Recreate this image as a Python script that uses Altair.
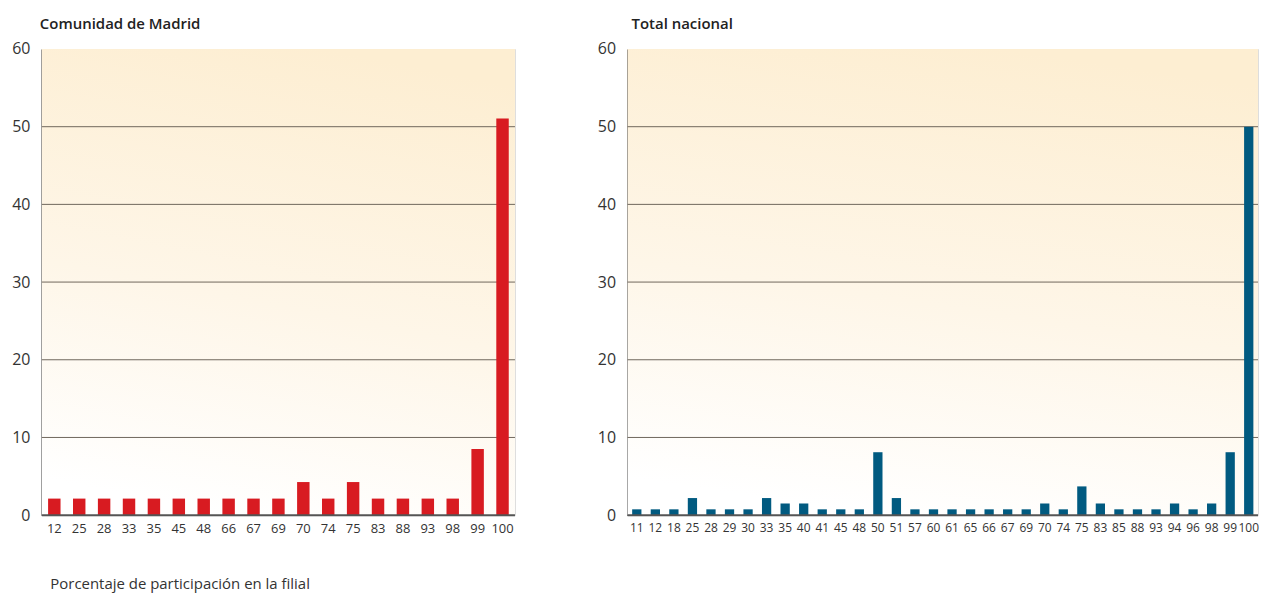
import altair as alt
import pandas as pd

# Comunidad de Madrid
madrid_cats = ["12", "25", "28", "33", "35", "45", "48", "66", "67", "69",
               "70", "74", "75", "83", "88", "93", "98", "99", "100"]
madrid_vals = [2.13, 2.13, 2.13, 2.13, 2.13, 2.13, 2.13, 2.13, 2.13, 2.13,
               4.26, 2.13, 4.26, 2.13, 2.13, 2.13, 2.13, 8.51, 51.06]

# Total nacional
nac_cats = ["11", "12", "18", "25", "28", "29", "30", "33", "35", "40",
            "41", "45", "48", "50", "51", "57", "60", "61", "65", "66",
            "67", "69", "70", "74", "75", "83", "85", "88", "93", "94",
            "96", "98", "99", "100"]
nac_vals = [0.75, 0.75, 0.75, 2.2, 0.75, 0.75, 0.75, 2.2, 1.5, 1.5,
            0.75, 0.75, 0.75, 8.1, 2.2, 0.75, 0.75, 0.75, 0.75, 0.75,
            0.75, 0.75, 1.5, 0.75, 3.7, 1.5, 0.75, 0.75, 0.75, 1.5,
            0.75, 1.5, 8.1, 50.0]

titles = ["Comunidad de Madrid", "Total nacional"]
x_title = "Porcentaje de participación en la filial"
y_ticks = [0, 10, 20, 30, 40, 50, 60]
grid_vals = [10, 20, 30, 40, 50]

FONT = "Open Sans"
H = 468

gradient = alt.LinearGradient(
    gradient="linear",
    stops=[alt.GradientStop(color="#fdeed2", offset=0),
           alt.GradientStop(color="#fef6e8", offset=0.55),
           alt.GradientStop(color="#ffffff", offset=1)],
    x1=0.6, y1=0, x2=0.4, y2=1,
)


def panel(cats, vals, title, width, color, label_size, show_xtitle, title_dx):
    df = pd.DataFrame({"cat": cats, "val": vals})
    bg = alt.Chart(pd.DataFrame({"a": [0]})).mark_rect(color=gradient).encode(
        x=alt.value(0), x2=alt.value(width), y=alt.value(0), y2=alt.value(H)
    )
    grid = alt.Chart(pd.DataFrame({"g": grid_vals})).mark_rule(
        color="#6f675c", strokeWidth=1
    ).encode(
        y=alt.Y("g:Q", scale=alt.Scale(domain=[0, 60], nice=False)),
        x=alt.value(0), x2=alt.value(width),
    )
    axis_kw = dict(labelAngle=0, ticks=False, domain=False, labelFontSize=label_size,
                   labelFont=FONT, labelColor="#333333", labelPadding=7)
    if show_xtitle:
        xaxis = alt.Axis(title=x_title, titleFont=FONT, titleFontSize=15,
                         titleFontWeight="normal", titleColor="#333333",
                         titleAnchor="start", titleAlign="left",
                         titleX=8, titleY=62, titleBaseline="top", **axis_kw)
    else:
        xaxis = alt.Axis(title=None, **axis_kw)
    bars = alt.Chart(df).mark_bar(color=color).encode(
        x=alt.X("cat:N", sort=cats, axis=xaxis,
                scale=alt.Scale(paddingInner=0.5, paddingOuter=0.25)),
        y=alt.Y("val:Q", scale=alt.Scale(domain=[0, 60], nice=False),
                axis=alt.Axis(values=y_ticks, title=None, ticks=False, grid=False,
                              labelFontSize=16, labelFont=FONT,
                              labelColor="#333333", labelPadding=12,
                              domainColor="#555555", domainWidth=2)),
    )
    zero = alt.Chart(pd.DataFrame({"a": [0]})).mark_rule(color="#555555", strokeWidth=2).encode(
        x=alt.value(0), x2=alt.value(width), y=alt.value(H)
    )
    return alt.layer(bg, grid, bars, zero).properties(
        width=width, height=H,
        title=alt.TitleParams(title, anchor="start", frame="group", font=FONT,
                              fontSize=15, fontWeight=600, color="#222222",
                              offset=9, dx=title_dx),
    )


left = panel(madrid_cats, madrid_vals, titles[0], 475, "#d81b21", 13, True, -2)
right = panel(nac_cats, nac_vals, titles[1], 633, "#015a80", 12, False, 4)

chart = alt.hconcat(left, right, spacing=80).configure_view(
    stroke="#b5b5b5", strokeWidth=1
).configure(background="white", padding={"left": 3, "top": 7, "right": 0, "bottom": 0})

chart.save("out.html", embed_options={"renderer": "svg", "actions": False})
